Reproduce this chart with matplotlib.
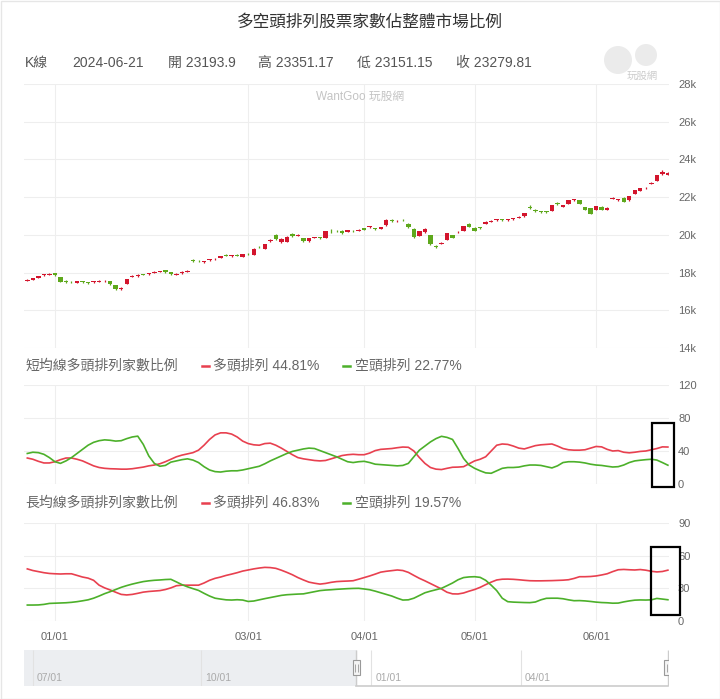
import matplotlib
matplotlib.use('Agg')
import matplotlib.pyplot as plt
from matplotlib.lines import Line2D
from matplotlib.patches import Rectangle, Circle
from matplotlib.transforms import IdentityTransform
import numpy as np

plt.rcParams['font.family'] = ['Liberation Sans', 'Noto Sans CJK TC', 'DejaVu Sans']

# ---------------- data ----------------
title = '多空頭排列股票家數佔整體市場比例'
header = ['K線', '2024-06-21', '開 23193.9', '高 23351.17', '低 23151.15', '收 23279.81']

opens = [17560, 17620, 17720, 17860, 17890, 17960, 17760, 17550, 17520, 17460,
         17530, 17470, 17480, 17500, 17530, 17530, 17320, 17150, 17420, 17760,
         17810, 17900, 17910, 17980, 18030, 18120, 18010, 17880, 17970, 18050,
         18660, 18620, 18540, 18650, 18700, 18790, 18920, 18860, 18940, 18830,
         19000, 18950, 19370, 19260, 19680, 19970, 19620, 19620, 20050, 19950,
         19820, 19670, 19830, 19870, 19850, 20210, 20220, 20210, 20170, 20220,
         20200, 20350, 20400, 20360, 20330, 20500, 20790, 20720, 20800, 20590,
         20320, 19950, 20130, 19970, 19400, 19530, 19740, 19970, 20140, 20200,
         20580, 20380, 20390, 20600, 20700, 20770, 20830, 20780, 20830, 20910,
         20990, 21450, 21320, 21230, 21220, 21270, 21700, 21480, 21660, 21850,
         21840, 21480, 21400, 21340, 21480, 21340, 21920, 21860, 21960, 21840,
         22190, 22330, 22480, 22720, 22860, 23220, 23193.9]
closes = [17630, 17700, 17820, 17900, 17930, 17850, 17520, 17500, 17480, 17530,
          17490, 17445, 17530, 17550, 17560, 17370, 17130, 17190, 17650, 17820,
          17870, 17880, 17980, 18040, 18080, 18020, 17900, 17940, 18050, 18100,
          18640, 18600, 18600, 18720, 18730, 18880, 18900, 18920, 18900, 18990,
          18960, 19270, 19340, 19490, 19710, 19800, 19790, 19900, 19930, 19990,
          19670, 19820, 19860, 19840, 20200, 20200, 20190, 20110, 20240, 20190,
          20270, 20280, 20460, 20300, 20400, 20800, 20760, 20750, 20770, 20410,
          19880, 20200, 20300, 19490, 19370, 19570, 20090, 19850, 20170, 20450,
          20430, 20200, 20370, 20680, 20740, 20820, 20790, 20820, 20870, 20960,
          21160, 21430, 21260, 21220, 21210, 21570, 21640, 21570, 21840, 21880,
          21660, 21340, 21130, 21520, 21340, 21440, 21940, 21890, 21750, 22050,
          22370, 22460, 22510, 22770, 23160, 23340, 23279.81]
highs = [17660, 17730, 17840, 17930, 17960, 17990, 17780, 17580, 17560, 17550,
         17570, 17500, 17560, 17590, 17600, 17560, 17340, 17240, 17680, 17850,
         17900, 17930, 18000, 18060, 18100, 18140, 18040, 17960, 18070, 18130,
         18720, 18660, 18630, 18740, 18760, 18900, 18960, 18950, 18960, 19010,
         19030, 19290, 19400, 19510, 19780, 20050, 19820, 19930, 20080, 20030,
         19850, 19840, 19890, 19900, 20230, 20290, 20250, 20240, 20270, 20240,
         20300, 20380, 20480, 20390, 20430, 20830, 20830, 20780, 20830, 20620,
         20340, 20230, 20340, 20010, 19460, 19610, 20110, 19990, 20230, 20470,
         20610, 20400, 20420, 20710, 20770, 20850, 20860, 20850, 20900, 20990,
         21180, 21560, 21350, 21280, 21280, 21600, 21730, 21600, 21860, 21920,
         21870, 21500, 21420, 21550, 21510, 21470, 22000, 21920, 21990, 22080,
         22390, 22480, 22560, 22800, 23180, 23420, 23351.17]
lows = [17540, 17600, 17700, 17840, 17870, 17830, 17490, 17470, 17450, 17440,
        17470, 17400, 17460, 17480, 17510, 17350, 17100, 17060, 17400, 17740,
        17790, 17850, 17890, 17960, 18010, 17990, 17880, 17860, 17950, 18030,
        18580, 18570, 18520, 18630, 18680, 18770, 18860, 18840, 18870, 18810,
        18920, 18930, 19310, 19240, 19600, 19720, 19580, 19600, 19910, 19920,
        19640, 19640, 19810, 19800, 19830, 20110, 20160, 20050, 20150, 20160,
        20180, 20250, 20380, 20280, 20310, 20480, 20700, 20690, 20740, 20390,
        19850, 19920, 20100, 19450, 19300, 19490, 19720, 19820, 20100, 20180,
        20410, 20180, 20330, 20580, 20680, 20750, 20760, 20760, 20810, 20890,
        20970, 21380, 21230, 21150, 21170, 21250, 21600, 21460, 21640, 21820,
        21630, 21310, 21100, 21320, 21310, 21320, 21880, 21820, 21720, 21820,
        22170, 22310, 22450, 22700, 22840, 23200, 23151.15]

short_bull = [31.5, 30, 27.5, 25.5, 25.5, 27, 29.5, 31.5, 31.5, 30,
              28, 25, 22, 20, 19, 18.5, 18.3, 18, 18, 18.5,
              19.5, 20.5, 22, 23, 24.5, 27, 30, 33, 35, 36.5,
              38, 41, 47, 54, 59.5, 62, 62, 60.5, 57, 52,
              49, 47.5, 47, 49, 49.5, 47, 43.5, 39.5, 35.5, 32,
              30.5, 29.5, 28.5, 28, 28.5, 30.5, 32.5, 34.5, 35.5, 36,
              35.5, 35.5, 37.5, 40.5, 42, 42.5, 43, 44, 44.8, 44.5,
              40, 32, 25, 20, 18, 17.5, 19, 20.3, 20.5, 21,
              24.5, 28, 30, 33, 40, 47, 48.5, 48, 46, 43.5,
              42.5, 44.5, 46.5, 47.5, 48, 48.5, 46, 43, 41.5, 41,
              41, 41.5, 43.5, 45.5, 45, 42, 40, 40.5, 38.5, 37.8,
              38.5, 39.5, 40, 41.5, 43, 45, 44.81]
short_bear = [37, 38.5, 38, 36, 32, 27, 25, 28, 32, 37,
              42, 47, 50.5, 52.5, 53.5, 53, 52, 52.5, 55, 57,
              58, 48, 34, 25, 21.5, 22.5, 26.5, 28, 29.5, 30.5,
              29, 26, 21, 17, 15, 14.5, 15.5, 16, 16, 17,
              18.5, 20, 21.5, 24.5, 28, 31, 34, 37, 39.5, 41,
              42.5, 43.5, 43, 40.5, 38, 35.5, 33, 30, 27, 26,
              27, 27.5, 26, 24, 23.5, 23, 22.5, 22, 22.5, 25,
              33, 41, 46, 51, 55, 57.8, 56.5, 54, 43, 31,
              23, 19, 16, 13.5, 13, 16, 19, 20, 20, 20.5,
              22, 23, 23, 22.5, 21, 19.5, 22, 26, 27, 27,
              26.5, 25.5, 24, 23, 22.5, 21.5, 20.6, 21, 23, 26,
              28, 28.8, 29.5, 30, 29, 26, 22.77]
long_bull = [48, 46.5, 45.5, 44.5, 43.8, 43.5, 43.3, 43.5, 43.5, 42,
             40.5, 39.5, 37.5, 33, 30.5, 28.6, 26.5, 24.5, 24, 24.5,
             25.5, 26.6, 27.2, 27.6, 28, 29, 30.5, 32.5, 33, 33,
             33, 33, 35, 37.5, 39.3, 40.5, 42, 43.2, 44.5, 46,
             47, 48, 48.8, 49.4, 49.2, 48.5, 46.8, 44.8, 42.6, 40,
             37.8, 35.8, 34.8, 34, 34.6, 35.6, 36.3, 36.6, 36.8, 37.1,
             38.5, 40, 41.5, 43.2, 45, 45.8, 46.4, 47, 46.5, 44.8,
             42, 39.3, 37, 34.5, 32, 29.5, 26.5, 25, 24.9, 25.8,
             27.5, 29, 31, 33.5, 35.8, 37.8, 38.5, 38.6, 38.4, 38,
             37.5, 37.1, 37, 37, 37.1, 37.2, 37.4, 37.6, 38, 39.2,
             40.8, 40.8, 41, 41.5, 42.4, 43.5, 45.5, 47.2, 47.5, 47.2,
             47, 47.4, 46.8, 45.8, 45.2, 45.6, 46.83]
long_bear = [14.7, 14.7, 14.8, 15.3, 16.2, 16.4, 16.6, 16.8, 17.2, 17.8,
             18.6, 19.5, 21, 23, 25.2, 27, 29, 31, 32.6, 34,
             35.2, 36.3, 37, 37.5, 37.8, 38.2, 38.4, 36, 33.5, 31.5,
             29.8, 28.2, 25.5, 23, 21, 20.2, 19.5, 19.3, 19.6, 19.3,
             18, 18.4, 19.5, 20.6, 21.6, 22.6, 23.6, 24.2, 24.5, 24.8,
             25, 26, 27, 28, 28.5, 28.8, 29.2, 29.5, 29.8, 30,
             30.1, 29.5, 28.8, 27.5, 26, 24.5, 23, 21, 19.3, 19.5,
             21, 23.5, 26, 27.5, 28.8, 30.1, 32.5, 35, 38, 40,
             40.6, 40.8, 40.2, 37.5, 33, 28, 21, 17.8, 17.4, 17.2,
             17, 16.9, 17.5, 19.5, 20.9, 21, 21, 20.5, 19.5, 18.7,
             18.8, 18.5, 18, 17.4, 17, 16.8, 16.4, 16.5, 17.6, 18.5,
             19.2, 19.4, 19.3, 19.5, 20.8, 20.2, 19.57]

month_idx = [5, 40, 61, 81, 103]
month_labels = ['01/01', '03/01', '04/01', '05/01', '06/01']
k_ticks = [14000, 16000, 18000, 20000, 22000, 24000, 26000, 28000]
k_labels = ['14k', '16k', '18k', '20k', '22k', '24k', '26k', '28k']
short_ticks = [0, 40, 80, 120]
long_ticks = [0, 30, 60, 90]
short_title = '短均線多頭排列家數比例'
long_title = '長均線多頭排列家數比例'
bull_name, bear_name = '多頭排列', '空頭排列'
nav_idx = [-122, -59, 5, 61]
nav_labels = ['07/01', '10/01', '01/01', '04/01']

# ---------------- style ----------------
W, H = 720, 699
RED_L, GREEN_L = '#e8404f', '#4cb02a'
RED_C, GREEN_C = '#d3152d', '#5ea81c'
GRID = '#eeeeee'
TICK = '#666666'

fig = plt.figure(figsize=(W / 100, H / 100), dpi=100)


def ax_px(left, top, right, bottom):
    return fig.add_axes([left / W, 1 - bottom / H, (right - left) / W, (bottom - top) / H])


def fx(px):
    return px / W


def fy(py):
    return 1 - py / H


x = np.arange(len(closes))
XL = (-0.6, 116.2)

ax1 = ax_px(24, 84, 669, 348)
ax2 = ax_px(24, 385, 669, 484)
ax3 = ax_px(24, 523.3, 669, 621)

for ax in (ax1, ax2, ax3):
    ax.set_xlim(*XL)
    for s in ax.spines.values():
        s.set_visible(False)
    ax.set_xticks(month_idx)
    ax.grid(True, color=GRID, linewidth=0.8)
    ax.set_axisbelow(True)
    ax.yaxis.tick_right()
    ax.tick_params(axis='y', length=0, pad=6.5, labelsize=8, labelcolor=TICK)
    ax.tick_params(axis='x', length=0)

ax1.tick_params(axis='x', labelbottom=False)
ax2.tick_params(axis='x', labelbottom=False)
ax3.set_xticklabels(month_labels)
ax3.tick_params(axis='x', pad=8, labelsize=8, labelcolor=TICK)

# candles
o = np.array(opens)
c = np.array(closes)
cols = np.where(c >= o, RED_C, GREEN_C)
ax1.vlines(x, lows, highs, colors=cols, linewidth=0.9, zorder=2)
ax1.bar(x, np.maximum(np.abs(c - o), 30), bottom=np.minimum(o, c), width=0.8,
        color=cols, linewidth=0, zorder=3)
ax1.set_ylim(14000, 28000)
ax1.set_yticks(k_ticks)
ax1.set_yticklabels(k_labels)

ax2.plot(x, short_bull, color=RED_L, linewidth=1.2, zorder=3)
ax2.plot(x, short_bear, color=GREEN_L, linewidth=1.2, zorder=3)
ax2.set_ylim(0, 120)
ax2.set_yticks(short_ticks)

ax3.plot(x, long_bull, color=RED_L, linewidth=1.2, zorder=3)
ax3.plot(x, long_bear, color=GREEN_L, linewidth=1.2, zorder=3)
ax3.set_ylim(0, 90)
ax3.set_yticks(long_ticks)

# navigator
axn = ax_px(24, 650, 669, 686)
axn.set_xlim(-125.3, 116.6)
axn.set_ylim(0, 1)
axn.axis('off')
axn.axvspan(-125.3, XL[0], color='#eceef1', zorder=0)
for xi, lab in zip(nav_idx, nav_labels):
    axn.vlines(xi, 0, 1, color='#e2e2e2', linewidth=0.8, zorder=1)
    axn.text(xi + 1.5, 0.22, lab, fontsize=7.5, color='#aaaaaa', ha='left', va='center')
axn.plot([XL[0], XL[1]], [0.0, 0.0], color='#cccccc', linewidth=1.2, clip_on=False)
axn.vlines([XL[0], XL[1]], 0, 1, color='#cccccc', linewidth=1.0)
for hx in (XL[0], XL[1]):
    axn.add_patch(Rectangle((hx - 1.4, 0.3), 2.8, 0.42, facecolor='#f4f4f4',
                            edgecolor='#999999', linewidth=0.8, zorder=5))
    axn.vlines([hx - 0.45, hx + 0.45], 0.4, 0.62, color='#999999', linewidth=0.6, zorder=6)

# texts
fig.text(fx(370), fy(22), title, ha='center', va='center', fontsize=12, color='#333333')
for tx, t in zip([25, 72, 168, 258, 357, 456], header):
    fig.text(fx(tx), fy(63), t, ha='left', va='center', fontsize=10, color='#555555')
fig.text(fx(360), fy(97), 'WantGoo 玩股網', ha='center', va='center', fontsize=8.5, color='#c4c4c4')

# logo watermark (faint)
fig.add_artist(Circle((618, H - 60), 14, transform=IdentityTransform(), facecolor='#ebebeb', edgecolor='none'))
fig.add_artist(Circle((646, H - 55), 11, transform=IdentityTransform(), facecolor='#ebebeb', edgecolor='none'))
fig.text(fx(642), fy(76), '玩股網', ha='center', va='center', fontsize=7.5, color='#cccccc')

for ty, ttl, vb, vr in [(366, short_title, short_bull[-1], short_bear[-1]),
                        (503, long_title, long_bull[-1], long_bear[-1])]:
    fig.text(fx(25), fy(ty), ttl, ha='left', va='center', fontsize=10, color='#666666')
    fig.add_artist(Line2D([fx(202), fx(209)], [fy(ty), fy(ty)], color=RED_L, linewidth=1.8))
    fig.text(fx(213), fy(ty), f'{bull_name} {vb:.2f}%', ha='left', va='center', fontsize=10, color='#666666')
    fig.add_artist(Line2D([fx(343), fx(350)], [fy(ty), fy(ty)], color=GREEN_L, linewidth=1.8))
    fig.text(fx(355), fy(ty), f'{bear_name} {vr:.2f}%', ha='left', va='center', fontsize=10, color='#666666')

# annotation boxes
for (l, t, r, b) in [(652, 423, 673.5, 487), (650.5, 547, 679.5, 615)]:
    fig.add_artist(Rectangle((fx(l), fy(b)), (r - l) / W, (b - t) / H, fill=False,
                             edgecolor='black', linewidth=1.6))

# outer border
fig.add_artist(Rectangle((0.5 / W, 0.5 / H), 1 - 1.0 / W, 1 - 1.0 / H, fill=False,
                         edgecolor='#e6e6e6', linewidth=1.0))

fig.savefig('out.png', dpi=100)
